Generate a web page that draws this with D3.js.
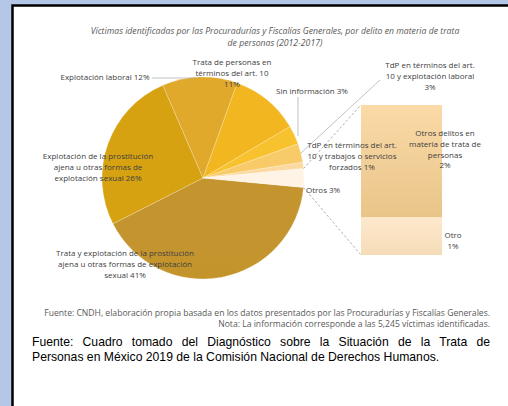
<!DOCTYPE html>
<html>
<head>
<meta charset="utf-8">
<script src="https://cdn.jsdelivr.net/npm/d3@7"></script>
<style>
  html, body { margin: 0; padding: 0; background: #b4c7e7; }
  svg { display: block; }
</style>
</head>
<body>
<div id="chart"></div>
<script>
// Data (percent of identified victims)
const titleLines = [
  "Víctimas identificadas por las Procuradurías y Fiscalías Generales, por delito en materia de trata",
  "de personas (2012-2017)"
]
const pieLabels = [
  "Trata y explotación de la prostitución|ajena u otras formas de explotación|sexual",
  "Explotación de la prostitución|ajena u otras formas de|explotación sexual",
  "Explotación laboral",
  "Trata de personas en|términos del art. 10",
  "Sin información",
  "TdP en términos del art.|10 y explotación laboral",
  "TdP en términos del art.|10 y trabajos o servicios|forzados",
  "Otros"
]
const pieValues = [41, 26, 12, 11, 3, 3, 1, 3]
const barLabels = ["Otros delitos en|materia de trata de|personas", "Otro"]
const barValues = [2.25, 0.75]
const footLines = [
  "Fuente: CNDH, elaboración propia basada en los datos presentados por las Procuradurías y Fiscalías Generales.",
  "Nota: La información corresponde a las 5,245 víctimas identificadas."
]
const sourceLines = [
  "Fuente: Cuadro tomado del Diagnóstico sobre la Situación de la Trata de",
  "Personas en México 2019 de la Comisión Nacional de Derechos Humanos."
]

// colours per slice: [top, bottom]
const pieColours = [
  ["#c4952e", "#bd8a10"], ["#d7a212", "#cd970a"], ["#e0a92c", "#d9a020"],
  ["#f2b621", "#eeac0c"], ["#f8c22e", "#f6b81c"], ["#f9cb68", "#f7c252"],
  ["#fbd9a0", "#f8d08a"], ["#fef3e4", "#fbe6c8"]
]
const barColours = [["#fbdaa8", "#e9c589"], ["#fee9cd", "#f5dcb7"]]

// label placement: x, y (baseline first line), anchor, percent on its own line?
const pieLabelPos = [
  {x: 125, y: 256, a: "middle", nl: false},
  {x: 98, y: 159, a: "middle", nl: false},
  {x: 105, y: 80, a: "middle", nl: false, lead: [[152, 78], [196, 78]]},
  {x: 232, y: 65, a: "middle", nl: true},
  {x: 312, y: 94, a: "middle", nl: false, lead: [[298, 97], [298, 136]]},
  {x: 430, y: 68, a: "middle", nl: true, lead: [[380, 80], [301, 153]]},
  {x: 352, y: 148, a: "middle", nl: false},
  {x: 306, y: 193, a: "start", nl: false}
]
const barLabelPos = [
  {x: 445, y: 136, a: "middle", nl: true},
  {x: 453, y: 238, a: "middle", nl: true}
]

const width = 508, height = 406
const cx = 203, cy = 178, r = 101
const lineH = 10.8
const labelFont = "'Open Sans', sans-serif"

const svg = d3.select("#chart").append("svg")
  .attr("width", width).attr("height", height)

const defs = svg.append("defs")

// white panel with black border
svg.append("rect").attr("x", 12.5).attr("y", 5.5)
  .attr("width", 520).attr("height", 420)
  .attr("fill", "#fff").attr("stroke", "#000").attr("stroke-width", 2.5)

// title
svg.append("g").selectAll("text").data(titleLines).join("text")
  .attr("x", 275).attr("y", (d, i) => 34 + i * 12)
  .attr("text-anchor", "middle")
  .style("font-family", labelFont).style("font-style", "italic")
  .style("font-size", "8.7px").style("fill", "#595959")
  .text(d => d)

// pie
const otrosShare = pieValues[pieValues.length - 1] / d3.sum(pieValues)
const start = Math.PI / 2 + otrosShare * Math.PI
const pie = d3.pie().sort(null).startAngle(start).endAngle(start + 2 * Math.PI)
const arcs = pie(pieValues)
const arc = d3.arc().innerRadius(0).outerRadius(r)

pieColours.forEach((c, i) => {
  const g = defs.append("linearGradient").attr("id", "pg" + i)
    .attr("gradientUnits", "userSpaceOnUse")
    .attr("x1", 0).attr("y1", cy - r).attr("x2", 0).attr("y2", cy + r)
  g.append("stop").attr("offset", "0%").attr("stop-color", c[0])
  g.append("stop").attr("offset", "100%").attr("stop-color", c[1])
})

const pieG = svg.append("g").attr("transform", `translate(${cx},${cy})`)
pieG.selectAll("path").data(arcs).join("path")
  .attr("d", arc)
  .attr("fill", (d, i) => `url(#pg${i})`)
  .attr("stroke", "#fff").attr("stroke-width", 0.4).attr("stroke-opacity", 0.5)

// bar of the "Otros" slice
const barX = 361, barW = 81, barTop = 105, barBottom = 255
const yBar = d3.scaleLinear().domain([0, d3.sum(barValues)]).range([barBottom, barTop])
const stacked = []
let acc = 0
barValues.slice().reverse().forEach(v => { stacked.push([acc, acc + v]); acc += v })
stacked.reverse()

barColours.forEach((c, i) => {
  const s = stacked[i]
  const g = defs.append("linearGradient").attr("id", "bg" + i)
    .attr("gradientUnits", "userSpaceOnUse")
    .attr("x1", 0).attr("y1", yBar(s[1])).attr("x2", 0).attr("y2", yBar(s[0]))
  g.append("stop").attr("offset", "0%").attr("stop-color", c[0])
  g.append("stop").attr("offset", "100%").attr("stop-color", c[1])
})

svg.append("g").selectAll("rect").data(stacked).join("rect")
  .attr("x", barX).attr("width", barW)
  .attr("y", d => yBar(d[1])).attr("height", d => yBar(d[0]) - yBar(d[1]))
  .attr("fill", (d, i) => `url(#bg${i})`)

// dashed connectors from the Otros slice to the bar
const otrosArc = arcs[arcs.length - 1]
const edge = a => [cx + r * Math.sin(a), cy - r * Math.cos(a)]
const conn = [[edge(otrosArc.startAngle), [barX, barTop]], [edge(otrosArc.endAngle), [barX, barBottom]]]
svg.append("g").selectAll("line").data(conn).join("line")
  .attr("x1", d => d[0][0]).attr("y1", d => d[0][1])
  .attr("x2", d => d[1][0]).attr("y2", d => d[1][1])
  .attr("stroke", "#8c8c8c").attr("stroke-width", 0.7).attr("stroke-dasharray", "2.5,2")

// leader lines
svg.append("g").selectAll("line").data(pieLabelPos.filter(p => p.lead)).join("line")
  .attr("x1", d => d.lead[0][0]).attr("y1", d => d.lead[0][1])
  .attr("x2", d => d.lead[1][0]).attr("y2", d => d.lead[1][1])
  .attr("stroke", "#a6a6a6").attr("stroke-width", 0.7)

function drawLabel(text, value, pos) {
  const pct = Math.round(value) + "%"
  const lines = text.split("|")
  if (pos.nl) lines.push(pct)
  else lines[lines.length - 1] += " " + pct
  const t = svg.append("text")
    .attr("text-anchor", pos.a)
    .style("font-family", labelFont).style("font-size", "8px").style("fill", "#404040")
  lines.forEach((l, i) => {
    t.append("tspan").attr("x", pos.x).attr("y", pos.y + i * lineH).text(l)
  })
}
pieLabels.forEach((l, i) => drawLabel(l, pieValues[i], pieLabelPos[i]))
barLabels.forEach((l, i) => drawLabel(l, barValues[i], barLabelPos[i]))

// footnotes
svg.append("g").selectAll("text").data(footLines).join("text")
  .attr("x", 490).attr("y", (d, i) => 315.5 + i * 11)
  .attr("text-anchor", "end")
  .style("font-family", labelFont).style("font-size", "8.6px").style("fill", "#595959")
  .text(d => d)

// source text, first line justified
const src = svg.append("g").selectAll("text").data(sourceLines).join("text")
  .attr("x", 32).attr("y", (d, i) => 346 + i * 15)
  .style("font-family", "'Liberation Sans', Arial, sans-serif")
  .style("font-size", "12.2px").style("fill", "#000")
  .text(d => d)
src.filter((d, i) => i === 0).each(function (d) {
  const gaps = d.split(" ").length - 1
  const extra = (490 - 32 - this.getComputedTextLength()) / gaps
  if (extra > 0) d3.select(this).style("word-spacing", extra + "px")
})
</script>
</body>
</html>
